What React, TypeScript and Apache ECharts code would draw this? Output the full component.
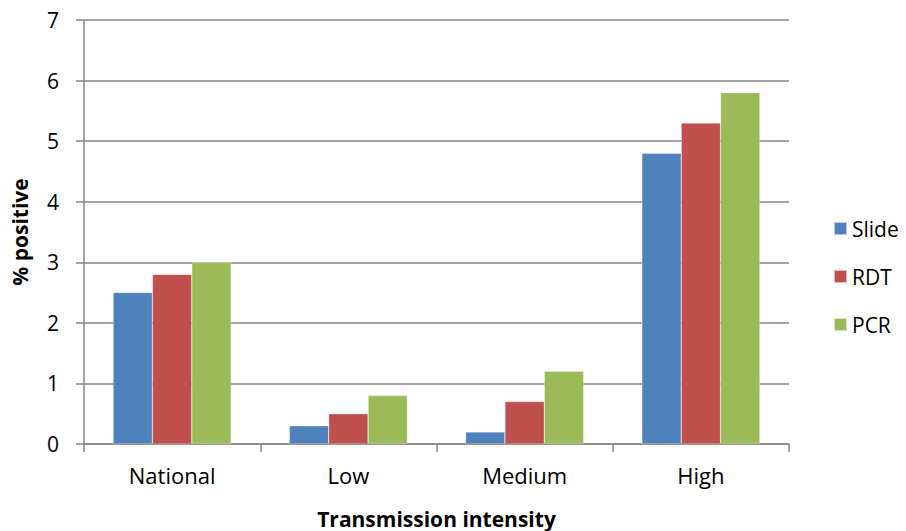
import React, { useEffect, useRef } from "react";
import * as echarts from "echarts";

const categories = ["National", "Low", "Medium", "High"];
const slide = [2.5, 0.3, 0.2, 4.8];
const rdt = [2.8, 0.5, 0.7, 5.3];
const pcr = [3.0, 0.8, 1.2, 5.8];
const seriesNames = ["Slide", "RDT", "PCR"];
const colors = ["#4F81BD", "#C0504D", "#9BBB59"];

const FONT = "'Open Sans', 'Noto Sans', sans-serif";

export default function App() {
  const ref = useRef<HTMLDivElement>(null);
  useEffect(() => {
    if (!ref.current) return;
    const chart = echarts.init(ref.current, undefined, { renderer: "svg" });
    const data = [slide, rdt, pcr];
    chart.setOption({
      animation: false,
      backgroundColor: "#ffffff",
      grid: { left: 84, right: 117, top: 20, bottom: 87, containLabel: false, outerBoundsMode: "none" },
      legend: {
        orient: "vertical",
        left: 833,
        top: 215,
        padding: 0,
        itemWidth: 13,
        itemHeight: 13,
        itemGap: 21,
        icon: "rect",
        textStyle: { fontFamily: FONT, fontSize: 21, color: "#000", lineHeight: 27 },
        data: seriesNames,
      },
      xAxis: {
        type: "category",
        data: categories,
        name: "Transmission intensity",
        nameLocation: "middle",
        nameGap: 64,
        nameTextStyle: { fontFamily: FONT, fontSize: 21, fontWeight: "bold", color: "#000" },
        axisLine: { lineStyle: { color: "#868686", width: 1.5 } },
        axisTick: { show: true, length: 8, alignWithLabel: false, lineStyle: { color: "#868686", width: 1.5 } },
        axisLabel: { fontFamily: FONT, fontSize: 22, color: "#000", margin: 20 },
      },
      yAxis: {
        type: "value",
        min: 0,
        max: 7,
        interval: 1,
        name: "% positive",
        nameLocation: "middle",
        nameGap: 54,
        nameRotate: 90,
        nameTextStyle: { fontFamily: FONT, fontSize: 21, fontWeight: "bold", color: "#000" },
        axisLine: { show: true, lineStyle: { color: "#868686", width: 1.5 } },
        axisTick: { show: true, length: 8, lineStyle: { color: "#868686", width: 1.5 } },
        axisLabel: { fontFamily: FONT, fontSize: 21, color: "#000", margin: 25 },
        splitLine: { lineStyle: { color: "#868686", width: 1.5 } },
      },
      series: seriesNames.map((n, i) => ({
        name: n,
        type: "bar",
        data: data[i],
        barGap: "0%",
        barCategoryGap: "33%",
        itemStyle: { color: colors[i], borderColor: "rgba(255,255,255,0.6)", borderWidth: 0.5 },
      })),
    });
    return () => chart.dispose();
  }, []);
  return <div ref={ref} style={{ width: 906, height: 531, position: "absolute", left: 0, top: 0 }} />;
}
